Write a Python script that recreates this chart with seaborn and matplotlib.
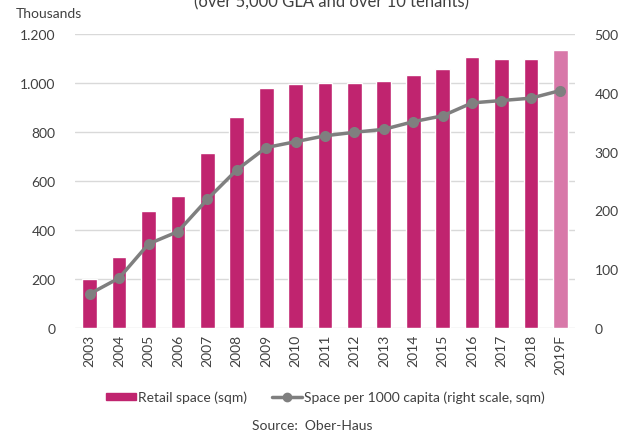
import numpy as np
import pandas as pd
import matplotlib
matplotlib.use("Agg")
import matplotlib.pyplot as plt
import seaborn as sns
from matplotlib.patches import Patch
from matplotlib.lines import Line2D

sns.set_style("white")
plt.rcParams['font.family'] = ['Lato', 'DejaVu Sans']

years = ["2003", "2004", "2005", "2006", "2007", "2008", "2009", "2010", "2011",
         "2012", "2013", "2014", "2015", "2016", "2017", "2018", "2019F"]
retail_space = [200, 288, 479, 540, 713, 862, 978, 996, 1002,
                1000, 1008, 1035, 1057, 1106, 1100, 1100, 1135]
space_per_capita = [58, 85, 143, 164, 219, 269, 307, 317, 327,
                    333, 338, 351, 361, 383, 387, 391, 404]

bar_color = "#C0246F"
forecast_color = "#D878A9"
line_color = "#7F7F7F"
text_color = "#404040"

df = pd.DataFrame({"year": years, "retail": retail_space, "capita": space_per_capita})
colors = [forecast_color if y.endswith("F") else bar_color for y in years]

fig = plt.figure(figsize=(6.25, 4.39), dpi=100)
ax = fig.add_axes([0.12, 0.2506, 0.80, 0.6694])

sns.barplot(data=df, x="year", y="retail", hue="year", palette=colors, saturation=1,
            legend=False, width=0.5, ax=ax, zorder=2)
ax.set_ylim(0, 1200)
ax.set_yticks(np.arange(0, 1201, 200))
ax.set_yticklabels([f"{v:,}".replace(",", ".") for v in range(0, 1201, 200)])
ax.set_xlim(-0.5, 16.5)
ax.set_xlabel("")
ax.set_ylabel("")
ax.yaxis.grid(True, color="#D9D9D9", linewidth=1)
ax.set_axisbelow(True)
for s in ax.spines.values():
    s.set_visible(False)
ax.tick_params(axis="x", rotation=90, length=0, labelsize=10, colors=text_color, pad=4)
ax.tick_params(axis="y", length=0, labelsize=10, colors=text_color, pad=14)

ax2 = ax.twinx()
sns.lineplot(x=np.arange(len(years)), y=df["capita"], color=line_color, linewidth=2.5,
             marker="o", markersize=8, markeredgewidth=0, ax=ax2, zorder=3)
ax2.set_ylim(0, 500)
ax2.set_yticks(np.arange(0, 501, 100))
ax2.set_ylabel("")
for s in ax2.spines.values():
    s.set_visible(False)
ax2.tick_params(axis="y", length=0, labelsize=10, colors=text_color, pad=14)

fig.text(0.025, 0.955, "Thousands", fontsize=10, color=text_color, va="bottom")
fig.text(0.53, 0.984, "(over 5,000 GLA and over 10 tenants)", fontsize=12,
         color=text_color, ha="center", va="baseline")

handles = [Patch(color=bar_color),
           Line2D([0], [0], color=line_color, lw=2.5, marker="o", markersize=6)]
fig.legend(handles, ["Retail space (sqm)", "Space per 1000 capita (right scale, sqm)"],
           loc="center", bbox_to_anchor=(0.52, 0.093), ncol=2, frameon=False,
           fontsize=10, labelcolor=text_color, handlelength=2.2, handleheight=0.5,
           handletextpad=0.1, columnspacing=1.8)
fig.text(0.5, 0.02, "Source:  Ober-Haus", fontsize=10, color=text_color, ha="center")

fig.savefig("out.png", dpi=100)
